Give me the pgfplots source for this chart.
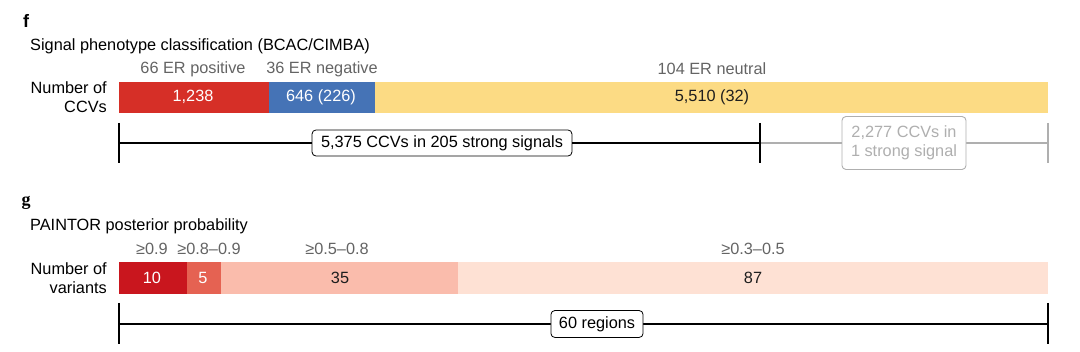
\documentclass[border=0pt]{standalone}
\usepackage{pgfplots}
\pgfplotsset{compat=1.18}
\usepackage{fontspec}
\setmainfont{Liberation Sans}
\newfontfamily\serifb{Liberation Serif}
\definecolor{fred}{RGB}{214,47,39}
\definecolor{fblue}{RGB}{69,115,182}
\definecolor{fyellow}{RGB}{252,219,132}
\definecolor{g1}{RGB}{201,22,30}
\definecolor{g2}{RGB}{229,98,82}
\definecolor{g3}{RGB}{250,188,172}
\definecolor{g4}{RGB}{254,225,212}
\definecolor{catgrey}{RGB}{100,100,100}
\definecolor{boxgrey}{RGB}{175,175,175}
\definecolor{dark}{RGB}{30,30,30}
\begin{document}
\begin{tikzpicture}
\fontsize{16.3}{18.5}\selectfont
\useasboundingbox (0,0) rectangle (1080pt,352pt);
% ---- panel f bar ----
\begin{axis}[at={(119pt,239pt)}, anchor=south west, scale only axis,
  width=929pt, height=31pt, xmin=0, xmax=7652, ymin=-0.5, ymax=0.5,
  hide axis, xbar stacked, bar width=31pt]
\addplot[fill=fred, draw=none] coordinates {(1238,0)};
\addplot[fill=fblue, draw=none] coordinates {(872,0)};
\addplot[fill=fyellow, draw=none] coordinates {(5542,0)};
\end{axis}
% ---- panel g bar ----
\begin{axis}[at={(119pt,58pt)}, anchor=south west, scale only axis,
  width=929pt, height=32pt, xmin=0, xmax=137, ymin=-0.5, ymax=0.5,
  hide axis, xbar stacked, bar width=32pt]
\addplot[fill=g1, draw=none] coordinates {(10,0)};
\addplot[fill=g2, draw=none] coordinates {(5,0)};
\addplot[fill=g3, draw=none] coordinates {(35,0)};
\addplot[fill=g4, draw=none] coordinates {(87,0)};
\end{axis}
% ---- panel f text ----
\node[font=\bfseries\fontsize{18}{20}\selectfont] at (26pt,331pt) {f};
\node[anchor=west, inner sep=0pt] at (30pt,306pt) {Signal phenotype classification (BCAC/CIMBA)};
\node[text=catgrey] at (193pt,283pt) {66 ER positive};
\node[text=catgrey] at (322pt,283pt) {36 ER negative};
\node[text=catgrey] at (712pt,283pt) {104 ER neutral};
\node[anchor=east, align=right, inner sep=0pt] at (107pt,255pt) {Number of\\CCVs};
\node[text=white] at (193pt,255pt) {1,238};
\node[text=white] at (321pt,255pt) {646 (226)};
\node[text=dark] at (712pt,255pt) {5,510 (32)};
% bracket f
\draw[boxgrey, line width=1.3pt] (760pt,209pt) -- (1048pt,209pt);
\draw[boxgrey, line width=1.6pt] (1048pt,229pt) -- (1048pt,189pt);
\draw[black, line width=1.3pt] (119pt,209pt) -- (760pt,209pt);
\draw[black, line width=1.6pt] (119pt,229pt) -- (119pt,189pt);
\draw[black, line width=1.6pt] (760pt,229pt) -- (760pt,189pt);
\node[draw=black, line width=0.8pt, fill=white, rounded corners=4pt, inner xsep=9pt, minimum height=26pt] at (442pt,209pt) {5,375 CCVs in 205 strong signals};
\node[draw=boxgrey, line width=0.9pt, fill=white, rounded corners=4pt, text=boxgrey, align=center, inner xsep=8pt, minimum height=53pt, minimum width=124pt] at (904pt,209pt) {2,277 CCVs in\\1 strong signal};
% ---- panel g text ----
\node[font=\serifb\bfseries\fontsize{18}{20}\selectfont] at (26pt,149pt) {g};
\node[anchor=west, inner sep=0pt] at (30pt,126pt) {PAINTOR posterior probability};
\node[text=catgrey] at (152pt,103pt) {≥0.9};
\node[text=catgrey] at (209pt,103pt) {≥0.8–0.9};
\node[text=catgrey] at (337pt,103pt) {≥0.5–0.8};
\node[text=catgrey] at (753pt,103pt) {≥0.3–0.5};
\node[anchor=east, align=right, inner sep=0pt] at (107pt,74pt) {Number of\\variants};
\node[text=white] at (152pt,74pt) {10};
\node[text=white] at (203pt,74pt) {5};
\node[text=dark] at (340pt,74pt) {35};
\node[text=dark] at (753pt,74pt) {87};
% bracket g
\draw[black, line width=1.3pt] (119pt,28pt) -- (1048pt,28pt);
\draw[black, line width=1.6pt] (119pt,49pt) -- (119pt,8pt);
\draw[black, line width=1.6pt] (1048pt,49pt) -- (1048pt,8pt);
\node[draw=black, line width=0.8pt, fill=white, rounded corners=4pt, inner xsep=8pt, minimum height=27pt] at (597pt,28pt) {60 regions};
\end{tikzpicture}
\end{document}
